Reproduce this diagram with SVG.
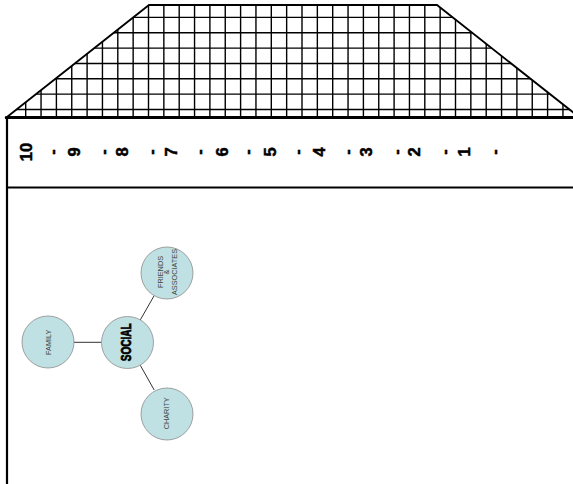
<svg xmlns="http://www.w3.org/2000/svg" width="573" height="484" viewBox="0 0 573 484">
<style>
.grid{stroke:#000;stroke-width:1.4;fill:none}
.num{font-family:"Liberation Sans",Arial,sans-serif;font-weight:bold;font-size:16.5px;fill:#000;stroke:#000;stroke-width:0.5;text-anchor:middle}
.node circle{fill:#bfe1e3;stroke:#8c8c8c;stroke-width:0.8}
.lbl{font-family:"Liberation Sans",Arial,sans-serif;font-size:7.3px;fill:#444;text-anchor:middle}
.big{font-family:"Liberation Sans Narrow","Liberation Sans",Arial,sans-serif;font-weight:bold;font-size:14px;fill:#000;stroke:#000;stroke-width:0.7;text-anchor:middle}
.conn line{stroke:#333;stroke-width:1}
</style>
<defs>
<clipPath id="trap"><polygon points="7,117 149,5 437,5 579,117"/></clipPath>
</defs>
<rect width="573" height="484" fill="#fff"/>
<g id="roof">
<g clip-path="url(#trap)">
<path class="grid" d="M25.7 0V120M41.05 0V120M56.4 0V120M71.75 0V120M87.1 0V120M102.45 0V120M117.8 0V120M133.15 0V120M148.5 0V120M163.85 0V120M179.2 0V120M194.55 0V120M209.9 0V120M225.25 0V120M240.6 0V120M255.95 0V120M271.3 0V120M286.65 0V120M302 0V120M317.35 0V120M332.7 0V120M348.05 0V120M363.4 0V120M378.75 0V120M394.1 0V120M409.45 0V120M424.8 0V120M440.15 0V120M455.5 0V120M470.85 0V120M486.2 0V120M501.55 0V120M516.9 0V120M532.25 0V120M547.6 0V120M562.95 0V120M0 17.4H580M0 32.75H580M0 48.1H580M0 63.45H580M0 78.8H580M0 94.15H580M0 109.5H580"/>
</g>
<polygon points="7,117 149,5 437,5 579,117" fill="none" stroke="#000" stroke-width="1.8"/>
</g>
<g id="frame" stroke="#000" fill="none">
<line x1="5" y1="117.6" x2="573" y2="117.6" stroke-width="2.8"/>
<line x1="7" y1="117" x2="7" y2="484" stroke-width="2.2"/>
<line x1="7" y1="187.5" x2="573" y2="187.5" stroke-width="1.8"/>
</g>
<g id="scale">
<text class="num" transform="translate(26,152) rotate(-90)" y="5.9">10</text>
<text class="num" transform="translate(52.7,152) rotate(-90)" y="4.8">-</text>
<text class="num" transform="translate(74,152) rotate(-90)" y="5.9">9</text>
<text class="num" transform="translate(104,152) rotate(-90)" y="4.8">-</text>
<text class="num" transform="translate(122.5,152) rotate(-90)" y="5.9">8</text>
<text class="num" transform="translate(151.7,152) rotate(-90)" y="4.8">-</text>
<text class="num" transform="translate(171,152) rotate(-90)" y="5.9">7</text>
<text class="num" transform="translate(200,152) rotate(-90)" y="4.8">-</text>
<text class="num" transform="translate(222,152) rotate(-90)" y="5.9">6</text>
<text class="num" transform="translate(248,152) rotate(-90)" y="4.8">-</text>
<text class="num" transform="translate(270,152) rotate(-90)" y="5.9">5</text>
<text class="num" transform="translate(298,152) rotate(-90)" y="4.8">-</text>
<text class="num" transform="translate(319,152) rotate(-90)" y="5.9">4</text>
<text class="num" transform="translate(348,152) rotate(-90)" y="4.8">-</text>
<text class="num" transform="translate(366,152) rotate(-90)" y="5.9">3</text>
<text class="num" transform="translate(397,152) rotate(-90)" y="4.8">-</text>
<text class="num" transform="translate(414,152) rotate(-90)" y="5.9">2</text>
<text class="num" transform="translate(445,152) rotate(-90)" y="4.8">-</text>
<text class="num" transform="translate(464,152) rotate(-90)" y="5.9">1</text>
<text class="num" transform="translate(495,152) rotate(-90)" y="4.8">-</text>
</g>
<g id="connectors" class="conn">
<line x1="74" y1="342.3" x2="101.5" y2="342.3"/>
<line x1="140.3" y1="319.9" x2="154.2" y2="295.6"/>
<line x1="140.3" y1="365.3" x2="154.2" y2="390"/>
</g>
<g id="family" class="node">
<circle cx="48" cy="342" r="26"/>
<text class="lbl" transform="translate(48.3,342.3) rotate(-90)" y="2.6">FAMILY</text>
</g>
<g id="social" class="node">
<circle cx="127.5" cy="342.5" r="26"/>
<text class="big" transform="translate(125.5,342.3) rotate(-90)" y="5.1" textLength="38" lengthAdjust="spacingAndGlyphs">SOCIAL</text>
</g>
<g id="friends" class="node">
<circle cx="167" cy="273" r="26"/>
<text class="lbl" transform="translate(167,272) rotate(-90)"><tspan x="0" y="-4.4">FRIENDS</tspan><tspan x="0" y="2">&amp;</tspan><tspan x="0" y="10.4">ASSOCIATES</tspan></text>
</g>
<g id="charity" class="node">
<circle cx="167" cy="414" r="26"/>
<text class="lbl" transform="translate(166.7,413.3) rotate(-90)" y="2.6">CHARITY</text>
</g>
</svg>
